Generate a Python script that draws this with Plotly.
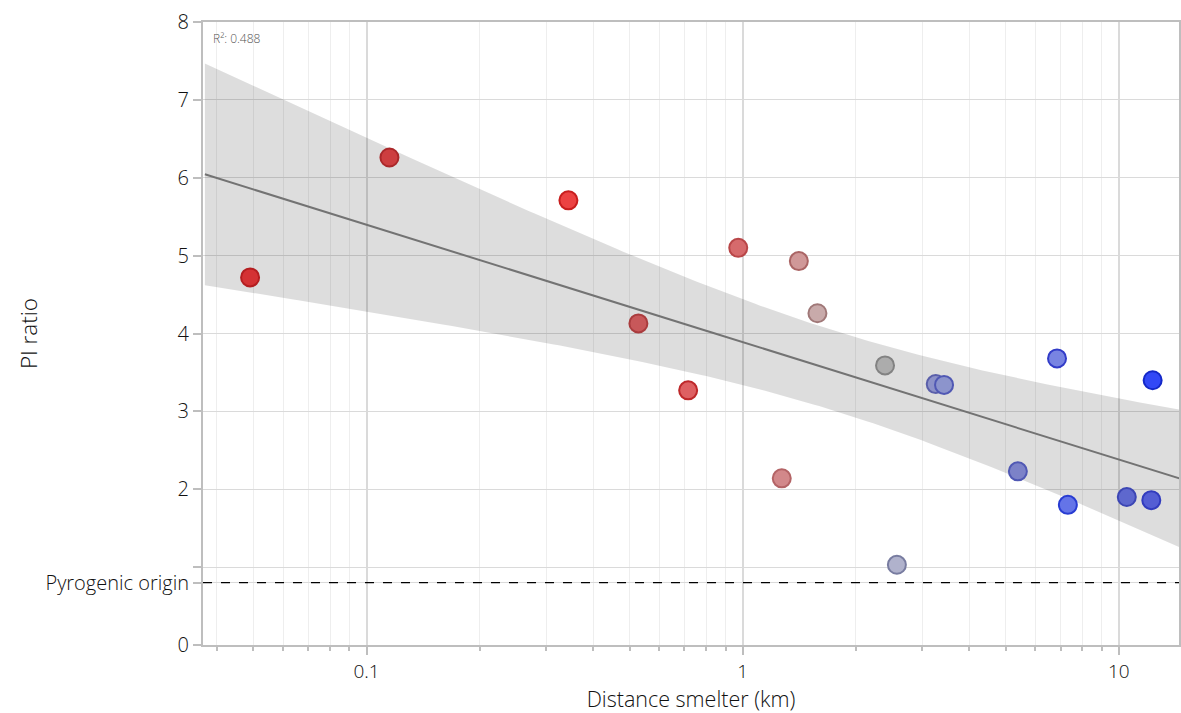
import numpy as np
import plotly.graph_objects as go

# Data
distance_km = [0.049, 0.115, 0.344, 0.528, 0.716, 0.973, 1.27, 1.41, 1.58, 2.39,
               2.57, 3.26, 3.43, 5.39, 6.85, 7.32, 10.5, 12.2, 12.3]
pi_ratio = [4.72, 6.26, 5.71, 4.13, 3.27, 5.10, 2.14, 4.93, 4.26, 3.59,
            1.03, 3.35, 3.34, 2.23, 3.68, 1.80, 1.90, 1.86, 3.40]
fill_colors = ["rgb(212,50,52)", "rgb(205,62,64)", "rgb(236,66,66)", "rgb(200,88,90)",
               "rgb(222,96,98)", "rgb(214,106,108)", "rgb(210,136,138)", "rgb(208,152,152)",
               "rgb(200,170,170)", "rgb(172,172,172)", "rgb(176,178,204)", "rgb(140,145,200)",
               "rgb(140,148,204)", "rgb(124,130,200)", "rgb(120,132,226)", "rgb(100,116,232)",
               "rgb(94,104,206)", "rgb(84,94,212)", "rgb(50,72,246)"]
line_colors = ["rgb(180,30,32)", "rgb(170,40,42)", "rgb(200,30,30)", "rgb(170,60,62)",
               "rgb(190,40,42)", "rgb(185,70,72)", "rgb(180,100,102)", "rgb(170,100,100)",
               "rgb(160,120,120)", "rgb(130,130,130)", "rgb(120,124,160)", "rgb(90,95,170)",
               "rgb(80,88,180)", "rgb(80,88,180)", "rgb(50,60,200)", "rgb(40,60,210)",
               "rgb(60,70,180)", "rgb(50,60,190)", "rgb(20,40,200)"]
r2_label = "R²: 0.488"
pyrogenic_value = 0.8
y_tickvals = [0, 0.8, 1, 2, 3, 4, 5, 6, 7, 8]
y_ticktext = ["0", "Pyrogenic origin", "", "2", "3", "4", "5", "6", "7", "8"]
x_major = [0.1, 1, 10]
x_major_text = ["0.1", "1", "10"]
t_crit = 2.11  # t(0.975, df=17)

# Regression on log10 distance
lx = np.log10(distance_km)
yv = np.array(pi_ratio)
n = len(lx)
slope, intercept = np.polyfit(lx, yv, 1)
resid = yv - (intercept + slope * lx)
s = np.sqrt(np.sum(resid ** 2) / (n - 2))
xm = lx.mean()
sxx = np.sum((lx - xm) ** 2)
grid = np.linspace(-1.43, 1.17, 200)
fit = intercept + slope * grid
se = s * np.sqrt(1 / n + (grid - xm) ** 2 / sxx)
upper = fit + t_crit * se
lower = fit - t_crit * se
gx = 10 ** grid

minor_vals = [m * 10.0 ** e for e in (-2, -1, 0, 1) for m in range(2, 10)]
minor_vals = [v for v in minor_vals if 0.036 < v < 14.5]

fig = go.Figure()
fig.add_trace(go.Scatter(x=np.concatenate([gx, gx[::-1]]), y=np.concatenate([upper, lower[::-1]]),
                         fill="toself", fillcolor="rgba(0,0,0,0.135)", line=dict(width=0),
                         hoverinfo="skip", showlegend=False))
fig.add_trace(go.Scatter(x=gx, y=fit, mode="lines", line=dict(color="rgb(115,115,115)", width=2),
                         showlegend=False))
fig.add_trace(go.Scatter(x=distance_km, y=pi_ratio, mode="markers",
                         marker=dict(size=18, color=fill_colors,
                                     line=dict(color=line_colors, width=2)),
                         showlegend=False))

fig.add_hline(y=pyrogenic_value, line=dict(color="black", width=1.3, dash="dash"))

font_family = "'Open Sans', 'Helvetica Neue', Arial, sans-serif"
fig.update_layout(
    width=1181, height=713,
    margin=dict(l=203, r=0, t=22, b=68),
    plot_bgcolor="white", paper_bgcolor="white",
    font=dict(family=font_family, size=19, color="#111", weight=300),
    xaxis=dict(type="log", range=[-1.435, 1.160],
               tickmode="array", tickvals=x_major, ticktext=x_major_text,
               showgrid=True, gridcolor="rgb(218,218,218)", gridwidth=1.5,
               ticks="outside", ticklen=8, tickcolor="rgb(190,190,190)", tickwidth=1.5,
               showline=True, linecolor="rgb(190,190,190)", linewidth=2, mirror=True,
               zeroline=False,
               minor=dict(tickmode="array", tickvals=minor_vals, showgrid=True,
                          gridcolor="rgb(238,238,238)", gridwidth=1,
                          ticks="outside", ticklen=4, tickcolor="rgb(190,190,190)"),
               title=dict(text="Distance smelter (km)", font=dict(size=21.5, weight=300), standoff=9),
               tickfont=dict(size=19, weight=300)),
    yaxis=dict(range=[0, 8], tickmode="array", tickvals=y_tickvals, ticktext=y_ticktext,
               showgrid=True, gridcolor="rgb(218,218,218)", gridwidth=1,
               ticks="outside", ticklen=8, tickcolor="rgb(190,190,190)", tickwidth=1.5,
               showline=True, linecolor="rgb(190,190,190)", linewidth=2, mirror=True,
               zeroline=False,
               title=dict(text="PI ratio", font=dict(size=22.5, weight=300), standoff=2),
               tickfont=dict(size=20, weight=300)),
)
fig.add_annotation(x=0.008, y=0.99, xref="paper", yref="paper", xanchor="left", yanchor="top",
                   text=r2_label, showarrow=False, font=dict(size=12, color="#555"))

fig.write_html("out.html")
